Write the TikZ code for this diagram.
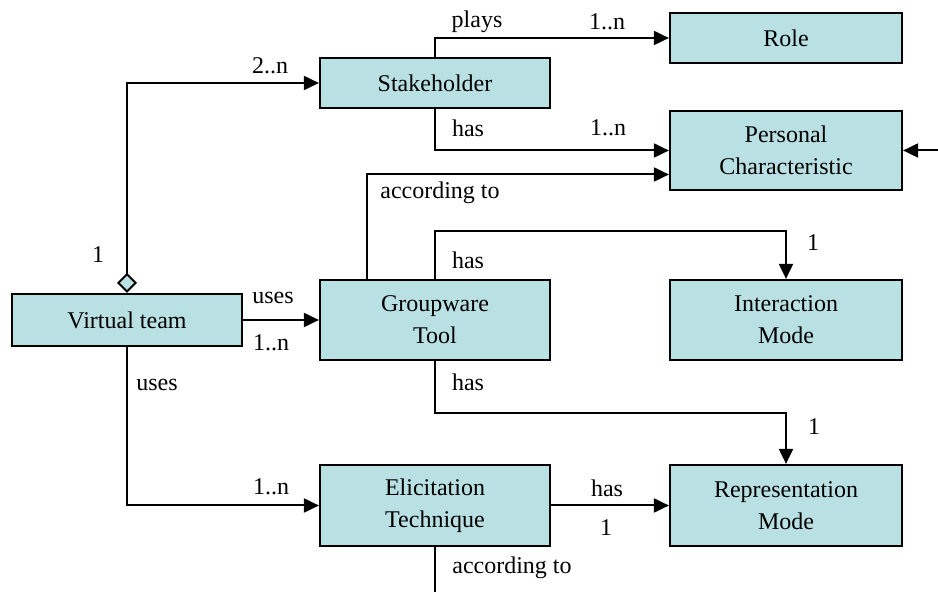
\documentclass[tikz,border=0pt]{standalone}
\usepackage{fontspec}
\setmainfont{Liberation Serif}
\usepackage{tikz}
\usetikzlibrary{arrows.meta,calc}
\definecolor{boxfill}{RGB}{185,224,227}

\begin{document}
\begin{tikzpicture}[x=0.5pt,y=-0.5pt,
    font=\fontsize{12}{16}\selectfont,
    entity/.style={draw, line width=1.1pt, fill=boxfill, align=center, minimum height=25pt},
    link/.style={draw, line width=1pt, -{Triangle[length=7.5pt,width=7pt]}},
    agg/.style={draw, line width=1pt, {Diamond[fill=boxfill,length=10pt,width=10pt]}-{Triangle[length=7.5pt,width=7pt]}},
    plain/.style={draw, line width=1pt},
    lbl/.style={inner sep=0pt}]
            \useasboundingbox (0,0) rectangle (938,592);
            % entities
            \node[entity, minimum width=116pt] (role) at (786,38) {Role};
            \node[entity, minimum width=115pt] (stake) at (435,83) {Stakeholder};
            \node[entity, minimum width=116pt, minimum height=39.5pt] (pers) at (786,150.5) {Personal\\Characteristic};
            \node[entity, minimum width=115pt, minimum height=26pt] (vt) at (127,320) {Virtual team};
            \node[entity, minimum width=115pt, minimum height=40pt] (gw) at (435,320) {Groupware\\Tool};
            \node[entity, minimum width=116pt, minimum height=40pt] (im) at (786,320) {Interaction\\Mode};
            \node[entity, minimum width=115pt, minimum height=40.5pt] (et) at (435,505.5) {Elicitation\\Technique};
            \node[entity, minimum width=116pt, minimum height=40.5pt] (rm) at (786,505.5) {Representation\\Mode};
            \coordinate (exitS) at (435,592);
            \coordinate (exitE) at (938,150.5);
            % relations
            \draw[link] (stake.north) |- (role.west);
            \draw[link] (stake.south) |- (pers.west);
            \draw[link] ($(gw.north)+(-68,0)$) |- ($(pers.west)+(0,24)$);
            \draw[link] (gw.north) -- ++(0,-48) -| (im.north);
            \draw[link] (gw.south) -- ++(0,52) -| (rm.north);
            \draw[link] (vt.east) -- (gw.west);
            \draw[agg] (vt.north) |- (stake.west);
            \draw[link] (vt.south) |- (et.west);
            \draw[link] (et.east) -- (rm.west);
            \draw[plain] (et.south) -- (exitS);
            \draw[link] (exitE) -- (pers.east);
            % labels
            \node[lbl] (lplays) at (477,22) {plays};
            \node[lbl] (nplays) at (607,22) {1..n};
            \node[lbl] (lhaspc) at (468,128) {has};
            \node[lbl] (nhaspc) at (608,128) {1..n};
            \node[lbl] (nstake) at (270,66) {2..n};
            \node[lbl] (nteam) at (98,255) {1};
            \node[lbl] (lacc) at (440,193) {according to};
            \node[lbl] (lhasim) at (468,260) {has};
            \node[lbl] (nhasim) at (813,243) {1};
            \node[lbl] (lusesgw) at (273,298) {uses};
            \node[lbl] (nusesgw) at (271,343) {1..n};
            \node[lbl] (lhasrm) at (468,382) {has};
            \node[lbl] (nhasrm) at (814,427) {1};
            \node[lbl] (luseset) at (157,385) {uses};
            \node[lbl] (nuseset) at (271,487) {1..n};
            \node[lbl] (lhasetrm) at (607,488) {has};
            \node[lbl] (nhasetrm) at (606,528) {1};
            \node[lbl] (laccet) at (512,568) {according to};
        \end{tikzpicture}
\end{document}
